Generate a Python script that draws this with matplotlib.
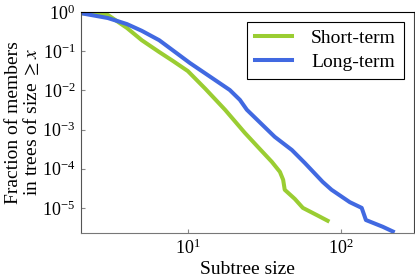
import matplotlib
matplotlib.use("Agg")
import matplotlib.pyplot as plt
import numpy as np

plt.rcParams['font.family'] = ['Liberation Serif', 'DejaVu Serif']
plt.rcParams['mathtext.fontset'] = 'stix'

# values (subtree size, fraction >= x)
short_x = [2, 3, 4, 5, 6.5, 8, 10, 13, 17.5, 23.6, 28.7, 35.4, 40, 42, 43, 50, 56.5, 70, 82]
short_y = [0.93, 0.84, 0.39, 0.19, 0.095, 0.056, 0.031, 0.011, 0.0032, 8.2e-4, 3.6e-4,
           1.5e-4, 8.3e-5, 5.2e-5, 2.9e-5, 1.7e-5, 1.0e-5, 6.5e-6, 4.7e-6]

long_x = [2, 3, 4, 5, 6.5, 10.3, 18.8, 21.9, 24.3, 37, 47.9, 58.2, 76.2, 87, 114.5, 137, 146, 188, 219]
long_y = [0.93, 0.70, 0.49, 0.33, 0.19, 0.050, 0.0102, 0.0057, 0.0032, 6.5e-4, 3.0e-4,
          1.4e-4, 4.6e-5, 2.9e-5, 1.4e-5, 1.0e-5, 4.9e-6, 3.3e-6, 2.5e-6]

fig = plt.figure(figsize=(4.15, 2.78), dpi=100)
ax = fig.add_axes([0.195, 0.162, 0.802, 0.795])

ax.plot(short_x, short_y, color='#9acd32', lw=2.9, label='Short-term')
ax.plot(long_x, long_y, color='#4169e1', lw=2.9, label='Long-term')

ax.set_xscale('log')
ax.set_yscale('log')
ax.set_xlim(2, 300)
ax.set_ylim(10 ** -5.64, 1)
ax.set_yticks([1, 1e-1, 1e-2, 1e-3, 1e-4, 1e-5])
ax.set_xticks([10, 100])
ax.minorticks_off()
ax.tick_params(direction='in', length=3, color='#888888', labelsize=13, pad=4)

ax.spines['top'].set_color('black')
ax.spines['right'].set_color('#444444')
ax.spines['left'].set_color('#555555')
ax.spines['bottom'].set_color('#777777')

ax.set_xlabel('Subtree size', fontsize=14, labelpad=2)
ax.set_ylabel('Fraction of members\nin trees of size $\\geq x$', fontsize=14,
              linespacing=0.9, labelpad=1)

leg = ax.legend(loc='upper right', fontsize=14, fancybox=False, framealpha=1,
                edgecolor='black', handlelength=1.9, borderpad=0.4,
                labelspacing=0.3, handletextpad=1.0, borderaxespad=0,
                bbox_to_anchor=(0.97, 0.955))
leg.get_frame().set_linewidth(0.8)

fig.savefig('out.png', dpi=100)
